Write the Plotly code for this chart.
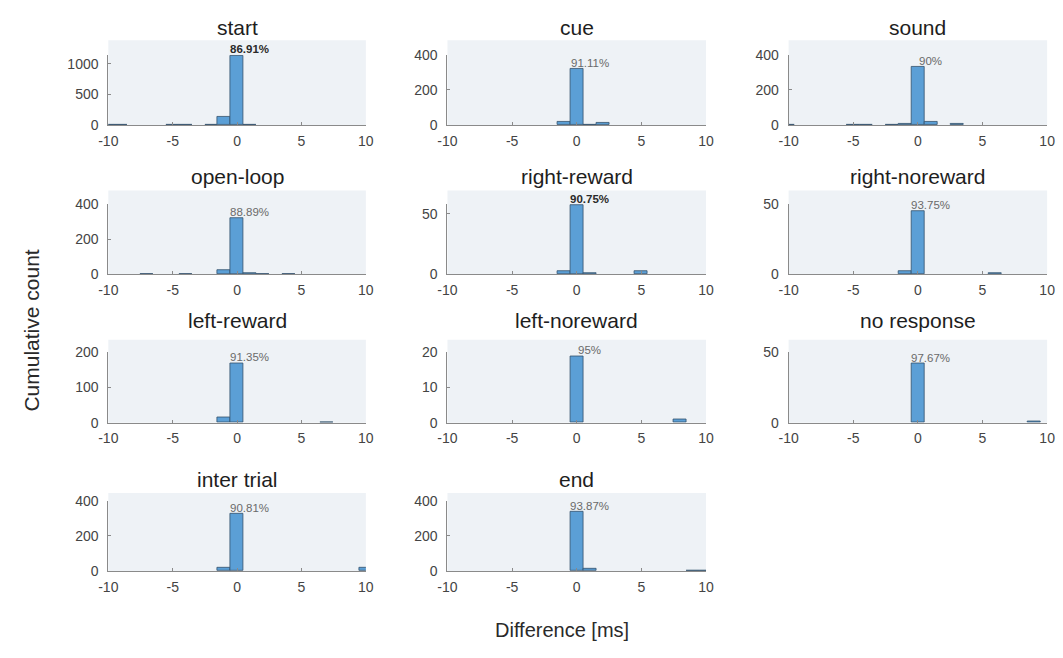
import plotly.graph_objects as go

W, H = 1063, 658

# ---------------- data ----------------
titles = ["start", "cue", "sound", "open-loop", "right-reward", "right-noreward",
          "left-reward", "left-noreward", "no response", "inter trial", "end"]

bins_start = [-10, -9, -5, -4, -2, -1, 0, 1]
counts_start = [8, 4, 6, 6, 6, 130, 1140, 12]

bins_cue = [-1, 0, 1, 2]
counts_cue = [18, 322, 3, 10]

bins_sound = [-10, -5, -4, -2, -1, 0, 1, 3]
counts_sound = [1, 3, 3, 2, 8, 330, 18, 6]

bins_openloop = [-7, -4, -1, 0, 1, 2, 4]
counts_openloop = [3, 2, 24, 320, 8, 2, 1]

bins_rightreward = [-1, 0, 1, 5]
counts_rightreward = [3, 57, 1, 3]

bins_rightnoreward = [-1, 0, 6]
counts_rightnoreward = [2, 45, 1]

bins_leftreward = [-1, 0, 7]
counts_leftreward = [14, 169, 2]

bins_leftnoreward = [0, 8]
counts_leftnoreward = [19, 1]

bins_noresponse = [0, 9]
counts_noresponse = [42, 1]

bins_intertrial = [-1, 0, 10]
counts_intertrial = [17, 326, 16]

bins_end = [0, 1, 9, 10]
counts_end = [337, 12, 4, 4]

percent_labels = ["86.91%", "91.11%", "90%", "88.89%", "90.75%", "93.75%",
                  "91.35%", "95%", "97.67%", "90.81%", "93.87%"]
bold_labels = [True, False, False, False, True, False, False, False, False, False, False]

y_ranges = [[0, 1150], [0, 400], [0, 400], [0, 400], [0, 58], [0, 50],
            [0, 200], [0, 20], [0, 50], [0, 400], [0, 400]]
y_ticks = [[0, 500, 1000], [0, 200, 400], [0, 200, 400], [0, 200, 400], [0, 50], [0, 50],
           [0, 100, 200], [0, 10, 20], [0, 50], [0, 200, 400], [0, 200, 400]]
x_ticks = [-10, -5, 0, 5, 10]

all_bins = [bins_start, bins_cue, bins_sound, bins_openloop, bins_rightreward,
            bins_rightnoreward, bins_leftreward, bins_leftnoreward, bins_noresponse,
            bins_intertrial, bins_end]
all_counts = [counts_start, counts_cue, counts_sound, counts_openloop, counts_rightreward,
              counts_rightnoreward, counts_leftreward, counts_leftnoreward, counts_noresponse,
              counts_intertrial, counts_end]

# ---------------- layout geometry (pixels) ----------------
col_px = [(100, 362), (445, 708), (792, 1055)]
row_axis_px = [(48, 120), (201, 273), (353, 425), (505, 577)]
row_bg_top = [33, 187, 340, 497]
row_title_y = [20, 173, 320, 483]

def px_x(x):
    return x / W

def px_y(y):
    return 1 - y / H

FONT = "Liberation Sans, Arial, sans-serif"
BAR_COLOR = "#5b9fd6"
EDGE_COLOR = "#34506c"
BG_COLOR = "#eef2f6"
AX_COLOR = "#8a8a8a"
TICK_FONT = dict(family=FONT, size=14, color="#444444")

fig = go.Figure()
layout = dict(
    width=W, height=H,
    margin=dict(l=0, r=0, t=0, b=0),
    paper_bgcolor="white",
    plot_bgcolor="rgba(0,0,0,0)",
    showlegend=False,
    bargap=0,
)
shapes = []
annotations = []

for i, title in enumerate(titles):
    r, c = divmod(i, 3)
    n = i + 1
    xa = "xaxis" if n == 1 else f"xaxis{n}"
    ya = "yaxis" if n == 1 else f"yaxis{n}"
    xr = "x" if n == 1 else f"x{n}"
    yr = "y" if n == 1 else f"y{n}"
    x0, x1 = col_px[c]
    yt, yb = row_axis_px[r]

    fig.add_trace(go.Bar(
        x=all_bins[i], y=all_counts[i], width=1,
        marker=dict(color=BAR_COLOR, line=dict(color=EDGE_COLOR, width=0.8)),
        xaxis=xr, yaxis=yr, hoverinfo="x+y",
    ))

    layout[xa] = dict(
        domain=[px_x(x0), px_x(x1)], anchor=yr, range=[-10, 10],
        tickmode="array", tickvals=x_ticks, ticktext=[str(v) for v in x_ticks],
        ticks="inside", ticklen=3, tickcolor=AX_COLOR, tickwidth=1,
        showline=True, linecolor=AX_COLOR, linewidth=1, ticklabelstandoff=3,
        showgrid=False, zeroline=False, tickfont=TICK_FONT, fixedrange=True,
    )
    layout[ya] = dict(
        domain=[px_y(yb), px_y(yt)], anchor=xr, range=y_ranges[i],
        tickmode="array", tickvals=y_ticks[i], ticktext=[str(v) for v in y_ticks[i]],
        ticks="inside", ticklen=3, tickcolor=AX_COLOR, tickwidth=1,
        showline=True, linecolor=AX_COLOR, linewidth=1, ticklabelstandoff=6,
        showgrid=False, zeroline=False, tickfont=TICK_FONT, fixedrange=True,
    )

    # light background panel (extends above the axes like the original)
    shapes.append(dict(
        type="rect", xref="paper", yref="paper",
        x0=px_x(x0), x1=px_x(x1), y0=px_y(yb), y1=px_y(row_bg_top[r]),
        fillcolor=BG_COLOR, line=dict(width=0), layer="below",
    ))

    # subplot title
    annotations.append(dict(
        text=title, xref="paper", yref="paper",
        x=px_x((x0 + x1) / 2), y=px_y(row_title_y[r]),
        xanchor="center", yanchor="middle", showarrow=False,
        font=dict(family=FONT, size=21, color="#1e1e1e"),
    ))

    # percentage label above the central bar
    peak = all_counts[i][all_bins[i].index(0)]
    lbl = percent_labels[i]
    annotations.append(dict(
        text=f"<b>{lbl}</b>" if bold_labels[i] else lbl,
        xref=xr, yref=yr, x=1.0, y=peak,
        xanchor="center", yanchor="bottom", showarrow=False, yshift=-2,
        font=dict(family=FONT, size=11.5,
                  color="#2a2a2a" if bold_labels[i] else "#6a6a6a"),
    ))

# global axis labels
annotations.append(dict(
    text="Cumulative count", xref="paper", yref="paper",
    x=px_x(22), y=px_y(331), xanchor="center", yanchor="middle",
    textangle=-90, showarrow=False,
    font=dict(family=FONT, size=21, color="#2a2a2a"),
))
annotations.append(dict(
    text="Difference [ms]", xref="paper", yref="paper",
    x=px_x(562), y=px_y(638), xanchor="center", yanchor="middle",
    showarrow=False,
    font=dict(family=FONT, size=20, color="#2a2a2a"),
))

layout["shapes"] = shapes
layout["annotations"] = annotations
fig.update_layout(**layout)

fig.write_html("out.html")
